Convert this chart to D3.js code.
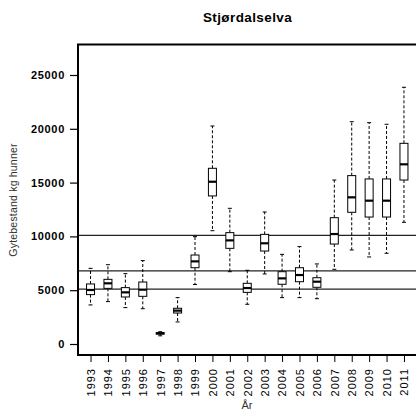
<!DOCTYPE html>
<html><head><meta charset="utf-8">
<script src="https://cdn.jsdelivr.net/npm/d3@7"></script>
<style>
html,body{margin:0;padding:0;background:#fff;}
svg{display:block;font-family:"Liberation Sans",Arial,sans-serif;}
</style></head>
<body>
<svg id="c" width="416" height="412"></svg>
<script>
const years = ["1993","1994","1995","1996","1997","1998","1999","2000","2001","2002","2003","2004","2005","2006","2007","2008","2009","2010","2011"];
const lowerWhisker = [3630,3940,3380,3280,760,2050,5530,10530,6720,3690,6510,4310,4310,4210,6940,8740,8090,8430,11310];
const q1 =           [4590,5170,4370,4430,920,2880,7090,13760,8890,4800,8640,5550,5790,5270,9290,12240,11800,11800,15240];
const median =       [5020,5640,4800,5050,990,3100,7680,15080,9630,5200,9360,6100,6410,5790,10220,13630,13320,13320,16700];
const q3 =           [5580,6010,5240,5760,1060,3320,8270,16330,10350,5640,10190,6720,7090,6160,11740,15650,15340,15340,18650];
const upperWhisker = [7030,7370,6540,7750,1140,4310,9980,20260,12610,6850,12270,8330,9050,7440,15240,20660,20570,20420,23860];
const yTicks = [0,5000,10000,15000,20000,25000];
const refLines = [10100,6800,5100];

const svg = d3.select("#c");
const L = 78, R = 416.5, T = 44.5, B = 355;

const x = d3.scalePoint().domain(years).range([L, R]).padding(0.72);
const y = d3.scaleLinear().domain([0, 25000]).range([344, 75]);

// reference lines
svg.append("g").selectAll("line").data(refLines).join("line")
  .attr("x1", L).attr("x2", 416).attr("y1", d => y(d)).attr("y2", d => y(d))
  .attr("stroke", "#222").attr("stroke-width", 1.2);

const bw = 8, cw = 4;
const data = years.map((yr, i) => ({yr, lw: lowerWhisker[i], q1: q1[i], md: median[i], q3: q3[i], uw: upperWhisker[i]}));
const g = svg.append("g").selectAll("g").data(data).join("g")
  .attr("transform", d => `translate(${x(d.yr)},0)`);
// whiskers
g.append("line").attr("x1", 0).attr("x2", 0).attr("y1", d => y(d.q3)).attr("y2", d => y(d.uw))
  .attr("stroke", "#000").attr("stroke-width", 1).attr("stroke-dasharray", "3,2");
g.append("line").attr("x1", 0).attr("x2", 0).attr("y1", d => y(d.q1)).attr("y2", d => y(d.lw))
  .attr("stroke", "#000").attr("stroke-width", 1).attr("stroke-dasharray", "3,2");
// caps
g.append("line").attr("x1", -cw/2).attr("x2", cw/2).attr("y1", d => y(d.uw)).attr("y2", d => y(d.uw))
  .attr("stroke", "#000").attr("stroke-width", 1);
g.append("line").attr("x1", -cw/2).attr("x2", cw/2).attr("y1", d => y(d.lw)).attr("y2", d => y(d.lw))
  .attr("stroke", "#000").attr("stroke-width", 1);
// box
g.append("rect").attr("x", -bw/2).attr("width", bw)
  .attr("y", d => y(d.q3)).attr("height", d => y(d.q1) - y(d.q3))
  .attr("fill", "#fff").attr("stroke", "#000").attr("stroke-width", 1);
// median
g.append("line").attr("x1", -bw/2).attr("x2", bw/2).attr("y1", d => y(d.md)).attr("y2", d => y(d.md))
  .attr("stroke", "#000").attr("stroke-width", 2.2);

// frame
svg.append("path").attr("d", `M${R+2},${T}H${L}V${B}H${R+2}`)
  .attr("fill", "none").attr("stroke", "#000").attr("stroke-width", 2);

// y axis
const ya = svg.append("g").attr("transform", `translate(${L},0)`)
  .call(d3.axisLeft(y).tickValues(yTicks).tickSize(8).tickFormat(d3.format("d")).tickPadding(5));
ya.select(".domain").remove();
ya.selectAll("line").attr("stroke", "#000").attr("stroke-width", 1.2);
ya.selectAll("text").attr("font-family", "Liberation Sans, Arial, sans-serif")
  .attr("font-size", 11).attr("font-weight", "bold").attr("letter-spacing", "0.7px").attr("fill", "#000");

// x axis
const xa = svg.append("g").attr("transform", `translate(0,${B})`)
  .call(d3.axisBottom(x).tickSize(7).tickPadding(6));
xa.select(".domain").remove();
xa.selectAll("line").attr("stroke", "#000").attr("stroke-width", 1);
xa.selectAll("text").attr("font-family", "Liberation Sans, Arial, sans-serif")
  .attr("font-size", 11).attr("letter-spacing", "1px").attr("fill", "#000")
  .attr("text-anchor", "end").attr("dy", "0.35em")
  .attr("transform", "translate(0,13) rotate(-90)").attr("x", 0).attr("y", 0);

// title
svg.append("text").attr("x", 247.5).attr("y", 22).attr("text-anchor", "middle")
  .attr("font-size", 13.5).attr("font-weight", "bold").attr("letter-spacing", "0.4px").text("Stjørdalselva");
// y label
svg.append("text").attr("transform", "translate(17,200) rotate(-90)").attr("text-anchor", "middle")
  .attr("font-size", 10.5).attr("fill", "#333").attr("letter-spacing", "0.2px").text("Gytebestand kg hunner");
// x label
svg.append("text").attr("x", 247).attr("y", 409).attr("text-anchor", "middle")
  .attr("font-size", 11).attr("fill", "#333").text("År");
</script>
</body></html>
